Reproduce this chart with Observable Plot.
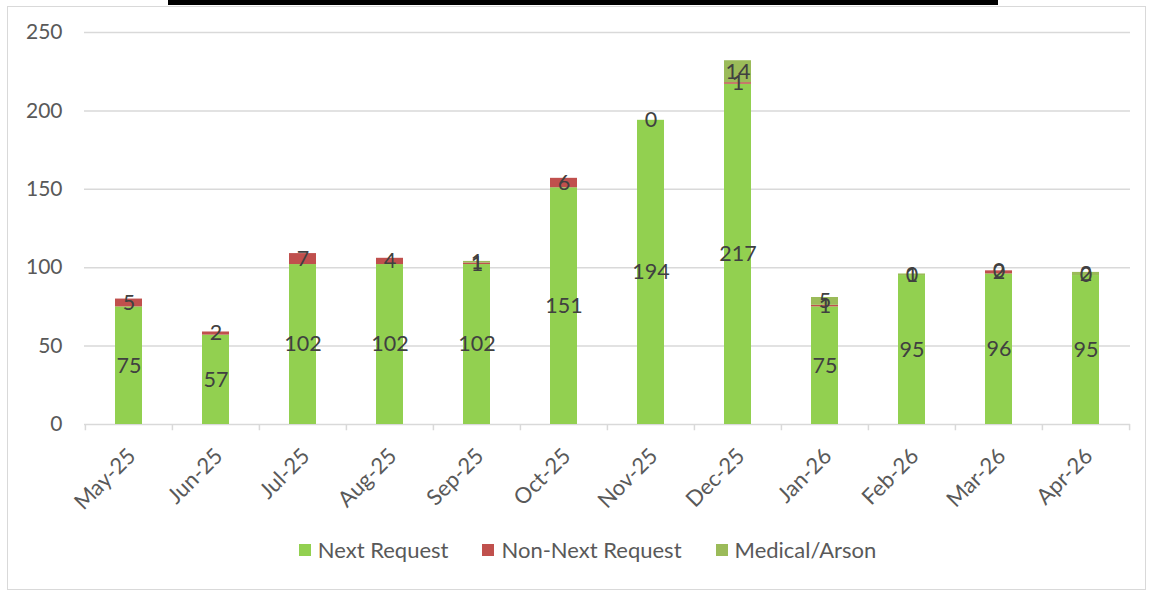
<!DOCTYPE html>
<html>
<head>
<meta charset="utf-8">
<script src="https://cdn.jsdelivr.net/npm/d3@7"></script>
<script src="https://cdn.jsdelivr.net/npm/@observablehq/plot@0.6"></script>
<style>
  html, body { margin: 0; padding: 0; background: #ffffff; }
  body { width: 1152px; height: 593px; position: relative; overflow: hidden; font-family: Lato, "Open Sans", sans-serif; }
  #frame { position: absolute; left: 7px; top: 6px; width: 1139px; height: 584px; border: 1px solid #d9d9d9; box-sizing: border-box; }
  #titlebar { position: absolute; left: 168px; top: 0; width: 830px; height: 5px; background: #000; }
  #chart { position: absolute; left: 0; top: 0; }
  #legend { position: absolute; left: 0; top: 536px; width: 1152px; display: flex; justify-content: center; padding-left: 23px; box-sizing: border-box; gap: 34px; font-size: 22px; color: #595959; }
  .item { display: flex; align-items: center; gap: 7px; }
  .sw { width: 12px; height: 12px; display: inline-block; }
</style>
</head>
<body>
<div id="frame"></div>
<div id="titlebar"></div>
<div id="chart"></div>
<div id="legend"></div>
<script>
const months = ["May-25","Jun-25","Jul-25","Aug-25","Sep-25","Oct-25","Nov-25","Dec-25","Jan-26","Feb-26","Mar-26","Apr-26"];
const nextRequest    = [75, 57, 102, 102, 102, 151, 194, 217, 75, 95, 96, 95];
const nonNextRequest = [5, 2, 7, 4, 1, 6, 0, 1, 1, 0, 2, 0];
const medicalArson   = [null, null, null, null, 1, null, null, 14, 5, 1, 0, 2];
const seriesNames  = ["Next Request", "Non-Next Request", "Medical/Arson"];
const seriesColors = ["#92D050", "#C0504D", "#9BBB59"];
const yTicks = [0, 50, 100, 150, 200, 250];

const seriesValues = [nextRequest, nonNextRequest, medicalArson];
const rows = [];
seriesNames.forEach((s, si) => {
  months.forEach((m, mi) => {
    const v = seriesValues[si][mi];
    if (v !== null && v !== undefined) rows.push({month: m, series: s, value: v});
  });
});

const W = 1152, H = 520, mL = 84, mR = 22, mT = 32, mB = 96;
const step = (W - mL - mR) / months.length;

const chart = Plot.plot({
  width: W, height: H,
  marginLeft: mL, marginRight: mR, marginTop: mT, marginBottom: mB,
  style: {fontFamily: "Lato, 'Open Sans', sans-serif", fontSize: "21px", color: "#595959", background: "transparent", overflow: "visible"},
  x: {domain: months, paddingInner: 0.69, paddingOuter: 0.345, label: null},
  y: {domain: [0, 250], label: null},
  color: {domain: seriesNames, range: seriesColors},
  marks: [
    Plot.ruleY(yTicks, {stroke: "#d9d9d9", strokeWidth: 1.5}),
    Plot.ruleX(months, {x: d => d, dx: -step / 2, y1: 0, y2: -4, stroke: "#d9d9d9", strokeWidth: 1.5}),
    Plot.ruleX(months.slice(-1), {x: d => d, dx: step / 2, y1: 0, y2: -4, stroke: "#d9d9d9", strokeWidth: 1.5}),
    Plot.barY(rows, {x: "month", y: "value", fill: "series", z: "series", order: seriesNames}),
    Plot.text(rows, Plot.stackY({x: "month", y: "value", z: "series", text: "value", order: seriesNames, fill: "#404040", fontSize: 21.5})),
    Plot.axisY({ticks: yTicks, tickSize: 0, tickPadding: 22, fontSize: 21, fill: "#595959", label: null}),
    Plot.axisX({tickSize: 0, tickRotate: -45, tickPadding: 24, dx: 3, dy: 4, fontSize: 22, fill: "#595959", label: null})
  ]
});
document.getElementById("chart").appendChild(chart);

const legend = document.getElementById("legend");
seriesNames.forEach((s, i) => {
  const item = document.createElement("div");
  item.className = "item";
  const sw = document.createElement("span");
  sw.className = "sw";
  sw.style.background = seriesColors[i];
  const t = document.createElement("span");
  t.textContent = s;
  item.appendChild(sw);
  item.appendChild(t);
  legend.appendChild(item);
});
</script>
</body>
</html>
